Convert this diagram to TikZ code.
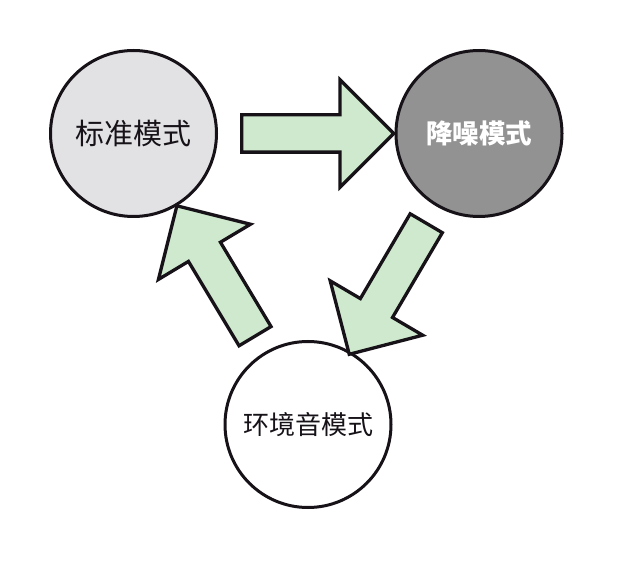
\documentclass[tikz,border=0pt]{standalone}
\usepackage{fontspec}
\newfontfamily\cjk{Noto Sans CJK SC}
\usepackage{tikz}
\usetikzlibrary{positioning}
\usetikzlibrary{shapes.arrows}
\definecolor{arrowgreen}{RGB}{206,233,205}
\definecolor{lightmode}{RGB}{226,226,228}
\definecolor{darkmode}{RGB}{146,146,146}
\definecolor{outline}{RGB}{22,18,24}
\tikzset{modecircle/.style={circle,draw=outline,line width=3pt,minimum size=166pt,inner sep=0pt,font=\cjk\fontsize{29}{32}\selectfont,text=outline}}
\tikzset{bigarrow/.style={single arrow,draw=outline,fill=arrowgreen,line width=3.3pt,inner xsep=0pt,inner ysep=17pt,single arrow head extend=35pt,single arrow tip angle=90,minimum height=152pt,sloped,allow upside down}}

\begin{document}
\begin{tikzpicture}[x=1pt,y=1pt]
\useasboundingbox[fill=white] (0,0) rectangle (618,560);
\node[modecircle,fill=lightmode] (std) at (133.5,426.5) {标准模式};
\node[modecircle,fill=darkmode,text=white,font=\cjk\bfseries\fontsize{26.5}{30}\selectfont] (anc) at (479,426.5) {降噪模式};
\node[modecircle,fill=white,font=\cjk\fontsize{26}{30}\selectfont] (amb) at (308,135.5) {环境音模式};
%\node at (308,280) {};
\path (std) -- (anc) node[bigarrow,pos=0.512] {};
\path (anc) -- (amb) node[bigarrow,midway,xshift=2pt] {};
\path (amb) -- (std) node[bigarrow,midway] {};
\end{tikzpicture}
\end{document}
